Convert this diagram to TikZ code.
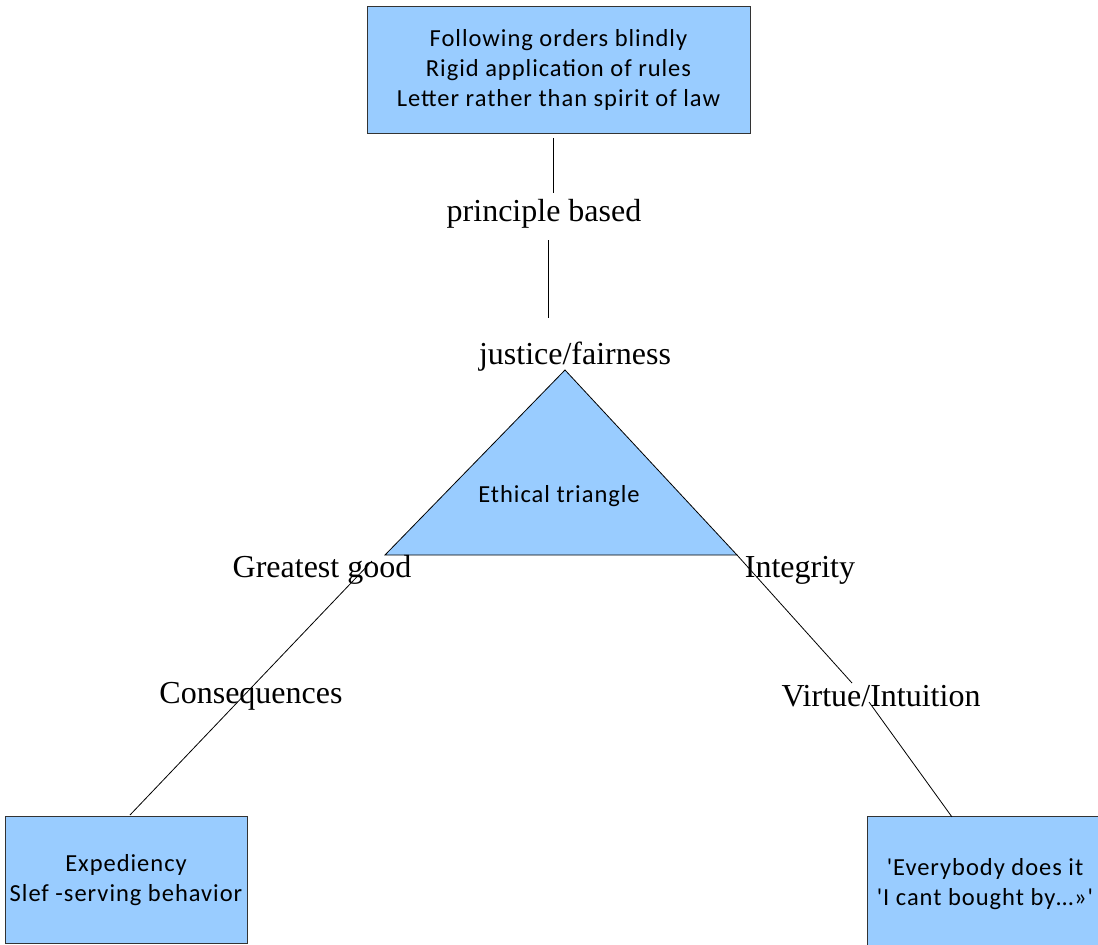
\documentclass[tikz,border=0pt]{standalone}
\usepackage{fontspec}
\setmainfont{Liberation Serif}
\newfontfamily\boxfont[LetterSpace=4]{Carlito}
\definecolor{boxblue}{HTML}{99CCFF}
\begin{document}
\begin{tikzpicture}[x=1pt,y=-1pt,
  box/.style={draw=black!80, fill=boxblue, line width=0.8pt, align=center,
    font=\boxfont\fontsize{24.5}{30}\selectfont, inner sep=0pt, text=black},
  lbl/.style={font=\fontsize{32}{36}\selectfont, inner sep=0pt},
  conn/.style={line width=0.8pt, draw=black}]
\useasboundingbox (0,0) rectangle (1098,945);
% boxes
\node[box, minimum width=383pt, minimum height=127pt] (top) at (558.5,69.5)
  {Following orders blindly\\Rigid application of rules\\Letter rather than spirit of law};
\node[box, minimum width=242pt, minimum height=127pt] (left) at (126,880)
  {Expediency\\Slef -serving behavior};
\node[box, minimum width=236pt, minimum height=136pt] (right) at (985,884.5)
  {'Everybody does it\\'I cant bought by…»'};
% triangle
\coordinate (apex) at (565,370);
\coordinate (bl) at (385,555);
\coordinate (br) at (737,555);
\draw[fill=boxblue, draw=black, line width=0.8pt] (apex) -- (br) -- (bl) -- cycle;
\node[font=\boxfont\fontsize{24.5}{30}\selectfont, inner sep=0pt] (eth) at (559,496) {Ethical triangle};
% labels
\node[lbl] (principle) at (544,214) {principle based};
\node[lbl] (justice) at (575,357) {justice/fairness};
\node[lbl] (greatest) at (322,570) {Greatest good};
\node[lbl] (integrity) at (800,570) {Integrity};
\node[lbl] (conseq) at (251,696) {Consequences};
\node[lbl] (virtue) at (881,696) {Virtue/Intuition};
% connector ends
\coordinate (t1) at (553,138);
\coordinate (t2) at (553,193);
\coordinate (t3) at (548,240);
\coordinate (t4) at (548,318);
\coordinate (g1) at (372,561);
\coordinate (g2) at (130,815);
\coordinate (v1) at (852,683);
\coordinate (v2) at (869,702);
\coordinate (v3) at (952,817);
% connectors
\draw[conn] (t1) -- (t2);
\draw[conn] (t3) -- (t4);
\draw[conn] (g1) -- (g2);
\draw[conn] (br) -- (v1);
\draw[conn] (v2) -- (v3);
\end{tikzpicture}
\end{document}
